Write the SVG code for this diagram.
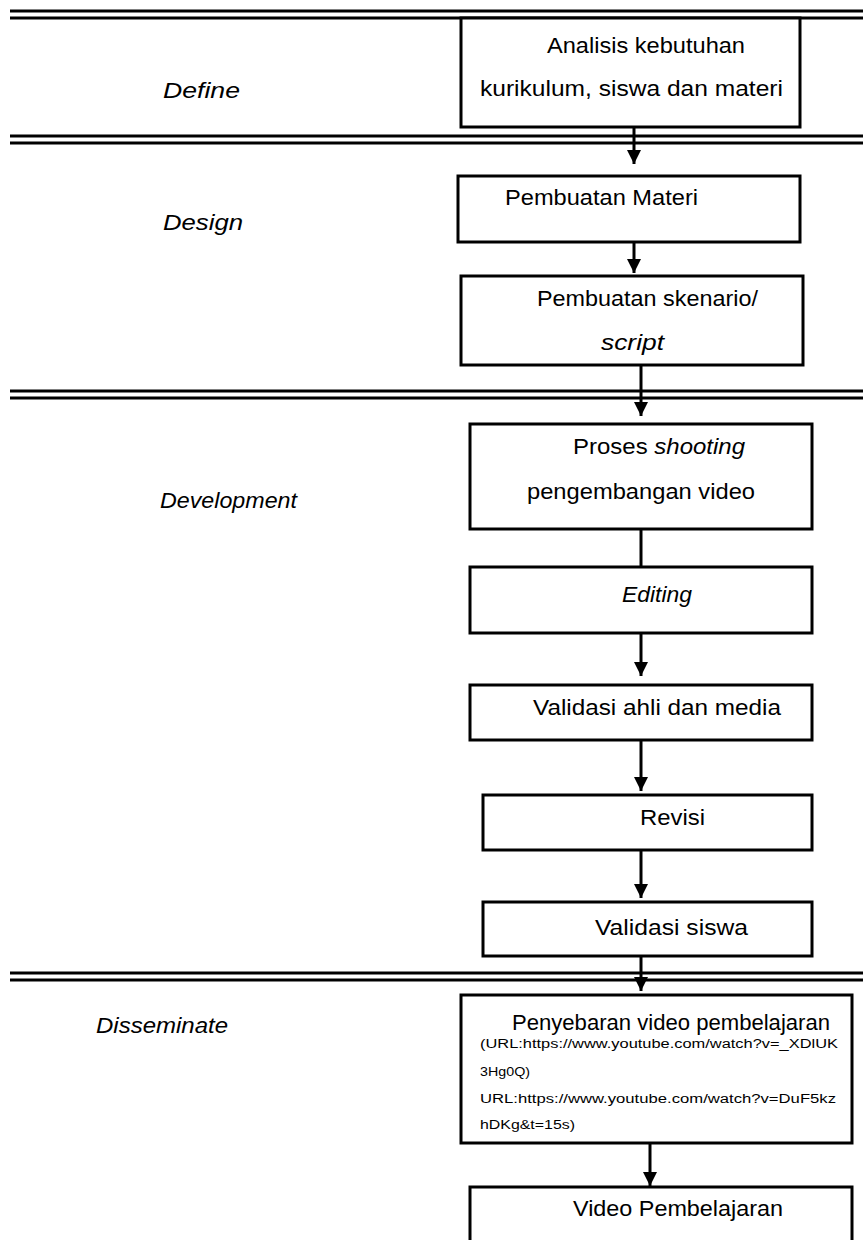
<svg xmlns="http://www.w3.org/2000/svg" width="863" height="1240" viewBox="0 0 863 1240">
<style>
.box{fill:#fff;stroke:#000;stroke-width:3}
.sep{stroke:#000;stroke-width:3}
.con{stroke:#000;stroke-width:3;fill:none}
.t{font-family:"Liberation Sans",Arial,sans-serif;font-size:22px;fill:#000}
.i{font-style:italic}
.s{font-family:"Liberation Sans",Arial,sans-serif;font-size:12px;fill:#000}
</style>
<defs>
<marker id="ah" viewBox="0 0 14 14" refX="14" refY="7" markerWidth="14" markerHeight="14" markerUnits="userSpaceOnUse" orient="auto">
<path d="M0,0 L14,7 L0,14 z" fill="#000"/>
</marker>
</defs>
<rect width="863" height="1240" fill="#fff"/>
<g id="separators">
<line class="sep" x1="10" y1="11" x2="863" y2="11"/>
<line class="sep" x1="10" y1="18" x2="863" y2="18"/>
<line class="sep" x1="10" y1="136" x2="863" y2="136"/>
<line class="sep" x1="10" y1="143" x2="863" y2="143"/>
<line class="sep" x1="10" y1="391" x2="863" y2="391"/>
<line class="sep" x1="10" y1="398" x2="863" y2="398"/>
<line class="sep" x1="10" y1="973" x2="863" y2="973"/>
<line class="sep" x1="10" y1="980" x2="863" y2="980"/>
</g>
<g id="phases">
<text class="t i" x="163" y="98" textLength="77" lengthAdjust="spacingAndGlyphs">Define</text>
<text class="t i" x="163" y="230" textLength="80" lengthAdjust="spacingAndGlyphs">Design</text>
<text class="t i" x="160" y="508" textLength="137" lengthAdjust="spacingAndGlyphs">Development</text>
<text class="t i" x="96" y="1033" textLength="132" lengthAdjust="spacingAndGlyphs">Disseminate</text>
</g>
<g id="connectors">
<line class="con" x1="634" y1="127" x2="634" y2="164" marker-end="url(#ah)"/>
<line class="con" x1="634" y1="242" x2="634" y2="273" marker-end="url(#ah)"/>
<line class="con" x1="641" y1="365" x2="641" y2="416" marker-end="url(#ah)"/>
<line class="con" x1="641" y1="529" x2="641" y2="567"/>
<line class="con" x1="641" y1="633" x2="641" y2="676" marker-end="url(#ah)"/>
<line class="con" x1="641" y1="740" x2="641" y2="791" marker-end="url(#ah)"/>
<line class="con" x1="641" y1="850" x2="641" y2="898" marker-end="url(#ah)"/>
<line class="con" x1="641" y1="956" x2="641" y2="991" marker-end="url(#ah)"/>
<line class="con" x1="650" y1="1143" x2="650" y2="1186" marker-end="url(#ah)"/>
</g>
<g id="n1">
<rect class="box" x="461" y="18" width="339" height="109"/>
<text class="t" x="547" y="53" textLength="198" lengthAdjust="spacingAndGlyphs">Analisis kebutuhan</text>
<text class="t" x="480" y="96" textLength="303" lengthAdjust="spacingAndGlyphs">kurikulum, siswa dan materi</text>
</g>
<g id="n2">
<rect class="box" x="458" y="176" width="342" height="66"/>
<text class="t" x="505" y="205" textLength="193" lengthAdjust="spacingAndGlyphs">Pembuatan Materi</text>
</g>
<g id="n3">
<rect class="box" x="461" y="276" width="342" height="89"/>
<text class="t" x="537" y="306" textLength="221" lengthAdjust="spacingAndGlyphs">Pembuatan skenario/</text>
<text class="t i" x="601" y="350" textLength="63" lengthAdjust="spacingAndGlyphs">script</text>
</g>
<g id="n4">
<rect class="box" x="470" y="424" width="342" height="105"/>
<text class="t" x="573" y="454" textLength="172" lengthAdjust="spacingAndGlyphs">Proses <tspan class="i">shooting</tspan></text>
<text class="t" x="527" y="499" textLength="228" lengthAdjust="spacingAndGlyphs">pengembangan  video</text>
</g>
<g id="n5">
<rect class="box" x="470" y="567" width="342" height="66"/>
<text class="t i" x="622" y="602" textLength="70" lengthAdjust="spacingAndGlyphs">Editing</text>
</g>
<g id="n6">
<rect class="box" x="470" y="685" width="342" height="55"/>
<text class="t" x="533" y="715" textLength="248" lengthAdjust="spacingAndGlyphs">Validasi ahli dan media</text>
</g>
<g id="n7">
<rect class="box" x="483" y="795" width="329" height="55"/>
<text class="t" x="640" y="825" textLength="65" lengthAdjust="spacingAndGlyphs">Revisi</text>
</g>
<g id="n8">
<rect class="box" x="483" y="902" width="329" height="54"/>
<text class="t" x="595" y="935" textLength="153" lengthAdjust="spacingAndGlyphs">Validasi  siswa</text>
</g>
<g id="n9">
<rect class="box" x="461" y="995" width="391" height="148"/>
<text class="t" x="512" y="1030" textLength="318" lengthAdjust="spacingAndGlyphs">Penyebaran video pembelajaran</text>
<text class="s" x="480" y="1048" textLength="358" lengthAdjust="spacingAndGlyphs">(URL:https://www.youtube.com/watch?v=_XDlUK</text>
<text class="s" x="480" y="1076" textLength="50" lengthAdjust="spacingAndGlyphs">3Hg0Q)</text>
<text class="s" x="480" y="1103" textLength="356" lengthAdjust="spacingAndGlyphs">URL:https://www.youtube.com/watch?v=DuF5kz</text>
<text class="s" x="480" y="1129" textLength="95" lengthAdjust="spacingAndGlyphs">hDKg&amp;t=15s)</text>
</g>
<g id="n10">
<rect class="box" x="470" y="1187" width="382" height="60"/>
<text class="t" x="573" y="1216" textLength="210" lengthAdjust="spacingAndGlyphs">Video Pembelajaran</text>
</g>
</svg>
